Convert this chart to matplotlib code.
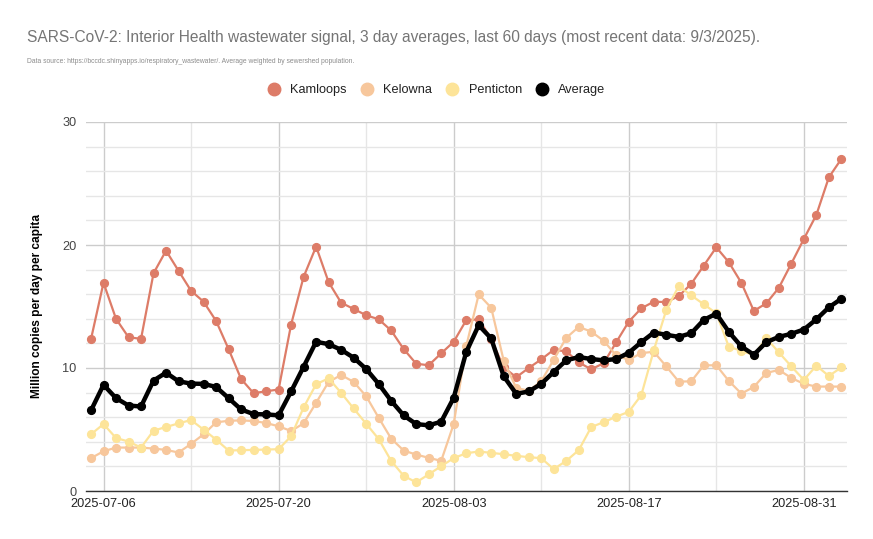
import matplotlib
matplotlib.use("Agg")
import matplotlib.pyplot as plt
import matplotlib.dates as mdates
from matplotlib.lines import Line2D
from matplotlib.ticker import MultipleLocator
import datetime as dt

start = dt.date(2025, 7, 5)
dates = [start + dt.timedelta(days=i) for i in range(61)]

kamloops = [12.35, 16.93, 14.0, 12.5, 12.37, 17.7, 19.54, 17.9, 16.28, 15.39,
            13.83, 11.54, 9.11, 7.95, 8.11, 8.25, 13.53, 17.41, 19.87, 16.98,
            15.31, 14.8, 14.29, 13.96, 13.05, 11.54, 10.35, 10.22, 11.19, 12.13,
            13.88, 13.96, 12.35, 10.05, 9.25, 10.0, 10.7, 11.48, 11.35, 10.46,
            9.89, 10.4, 12.1, 13.77, 14.85, 15.39, 15.36, 15.85, 16.85, 18.33,
            19.81, 18.6, 16.93, 14.64, 15.26, 16.52, 18.49, 20.49, 22.45, 25.5,
            27.0]
kelowna = [2.67, 3.23, 3.53, 3.53, 3.53, 3.45, 3.34, 3.13, 3.83, 4.61,
           5.58, 5.71, 5.74, 5.69, 5.53, 5.26, 4.88, 5.5, 7.17, 8.87,
           9.43, 8.87, 7.71, 5.96, 4.26, 3.29, 2.96, 2.70, 2.45, 5.44,
           11.75, 15.98, 14.9, 10.59, 8.38, 8.15, 8.92, 10.67, 12.45, 13.34,
           12.96, 12.2, 11.02, 10.67, 11.21, 11.32, 10.13, 8.89, 8.92, 10.22,
           10.22, 8.95, 7.92, 8.46, 9.6, 9.84, 9.19, 8.71, 8.49, 8.49,
           8.49]
penticton = [4.61, 5.44, 4.31, 4.02, 3.53, 4.91, 5.2, 5.5, 5.77, 4.99,
             4.18, 3.29, 3.32, 3.34, 3.37, 3.40, 4.45, 6.79, 8.68, 9.16,
             7.98, 6.71, 5.47, 4.23, 2.45, 1.24, 0.70, 1.35, 2.02, 2.67,
             3.07, 3.21, 3.10, 2.99, 2.86, 2.75, 2.67, 1.78, 2.45, 3.32,
             5.2, 5.6, 6.04, 6.44, 7.79, 11.43, 14.72, 16.66, 15.9, 15.18,
             14.45, 11.73, 11.4, 11.05, 12.43, 11.27, 10.13, 9.03, 10.19, 9.35,
             10.05]
average = [6.55, 8.63, 7.55, 6.95, 6.87, 8.98, 9.62, 8.92, 8.73, 8.71,
           8.46, 7.55, 6.63, 6.25, 6.23, 6.15, 8.09, 10.1, 12.13, 11.94,
           11.48, 10.84, 9.92, 8.71, 7.33, 6.15, 5.44, 5.34, 5.63, 7.57,
           11.29, 13.48, 12.4, 9.33, 7.9, 8.09, 8.71, 9.68, 10.62, 10.89,
           10.73, 10.62, 10.73, 11.24, 12.1, 12.88, 12.7, 12.53, 12.83, 13.91,
           14.42, 12.94, 11.75, 11.08, 12.1, 12.53, 12.78, 13.13, 13.96, 14.93,
           15.63]

series_names = ["Kamloops", "Kelowna", "Penticton", "Average"]
colors = ["#dd7c68", "#f7c79c", "#fde499", "#000000"]

plt.rcParams['font.family'] = ['Liberation Sans', 'DejaVu Sans']

W, H = 873, 539
fig = plt.figure(figsize=(W/100, H/100), dpi=100)
L, R, T, B = 86, 847, 122, 491
ax = fig.add_axes([L/W, 1 - B/H, (R-L)/W, (B-T)/H])

for vals, c in zip([kamloops, kelowna, penticton], colors[:3]):
    ax.plot(dates, vals, color=c, lw=1.6, marker='o', ms=5.6, mec=c, mfc=c, zorder=3)
ax.plot(dates, average, color='black', lw=3.2, marker='o', ms=5.6, zorder=4,
        solid_joinstyle='round')

x0 = mdates.date2num(start)
ax.set_xlim(x0 - 0.4, x0 + 60.45)
ax.set_ylim(0, 30)

major_dates = [dt.date(2025, 7, 6) + dt.timedelta(days=14*k) for k in range(5)]
minor_dates = [dt.date(2025, 7, 13) + dt.timedelta(days=14*k) for k in range(4)]
ax.set_xticks([mdates.date2num(d) for d in major_dates])
ax.set_xticklabels([d.strftime('%Y-%m-%d') for d in major_dates])
ax.set_xticks([mdates.date2num(d) for d in minor_dates], minor=True)
ax.set_yticks([0, 10, 20, 30])
ax.yaxis.set_minor_locator(MultipleLocator(2))

ax.grid(which='major', color='#cccccc', lw=1.0, zorder=0)
ax.grid(which='minor', color='#e6e6e6', lw=1.0, zorder=0)
ax.set_axisbelow(True)
for s in ['top', 'right', 'left']:
    ax.spines[s].set_visible(False)
ax.spines['bottom'].set_color('#333333')
ax.spines['bottom'].set_linewidth(1.0)
ax.spines['bottom'].set_zorder(5)
ax.tick_params(which='both', length=0)
ax.tick_params(axis='x', labelsize=9.2, colors='#222222', pad=5)
ax.tick_params(axis='y', labelsize=9.2, colors='#444444', pad=7)

fig.text(27/W, 1 - 42/H, "SARS-CoV-2: Interior Health wastewater signal, 3 day averages, last 60 days (most recent data: 9/3/2025).",
         fontsize=11.2, color='#757575', ha='left', va='baseline')
fig.text(27/W, 1 - 63/H,
         "Data source: https://bccdc.shinyapps.io/respiratory_wastewater/. Average weighted by sewershed population.",
         fontsize=4.9, color='#8c8c8c', ha='left', va='baseline')

fig.text(37/W, 1 - ((T+B)/2)/H, "Million copies per day per capita", rotation=90,
         fontsize=8.6, fontweight='bold', color='#000000', ha='center', va='center')

handles = [Line2D([], [], ls='none', marker='o', ms=9, mfc=c, mec=c) for c in colors]
fig.legend(handles, series_names, loc='center', bbox_to_anchor=(0.5, 1 - 90/H), ncol=4,
           frameon=False, fontsize=9.2, handletextpad=0.8, columnspacing=1.05,
           handlelength=1.0, labelcolor='#222222')

fig.savefig("out.png", dpi=100)
